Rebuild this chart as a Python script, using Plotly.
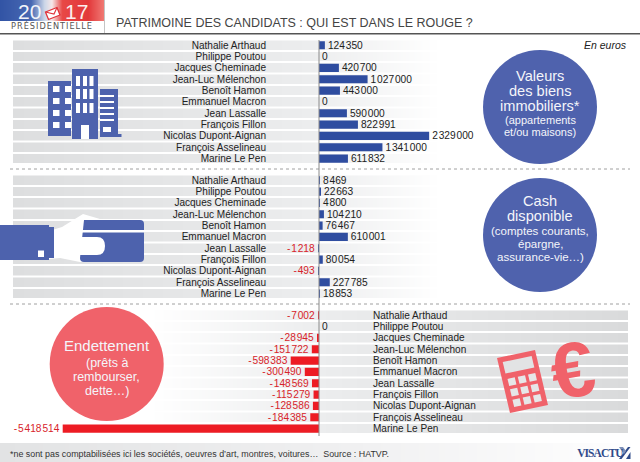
import base64, math, struct, zlib
import plotly.graph_objects as go

W, H = 640, 462
NAMES = ["Nathalie Arthaud", "Philippe Poutou", "Jacques Cheminade", "Jean-Luc Mélenchon",
         "Benoît Hamon", "Emmanuel Macron", "Jean Lassalle", "François Fillon",
         "Nicolas Dupont-Aignan", "François Asselineau", "Marine Le Pen"]
IMMO = [124350, 0, 420700, 1027000, 443000, 0, 590000, 822991, 2329000, 1341000, 611832]
CASH = [8469, 22663, 4800, 104210, 76467, 610001, -1218, 80054, -493, 227785, 18853]
DEBT = [-7002, 0, -28945, -151722, -598383, -300490, -148569, -115279, -128586, -184385, -5418514]

TITLE = "PATRIMOINE DES CANDIDATS : QUI EST DANS LE ROUGE ?"
NOTE = "*ne sont pas comptabilisées ici les sociétés, oeuvres d’art, montres, voitures…  Source : HATVP."

BLUE_BAR, RED_BAR = "#2f4da0", "#ed1c24"
BLUE_C, RED_C = "#4f62ad", "#f0626a"
ICON_BLUE = "#4d62ad"
FONT = "Liberation Sans"
ZERO_PX, PX_PER_EURO = 319.0, 47.3e-6


def px(x):
    return x / W


def py(y):
    return 1 - y / H


def png(width, height, fn):
    raw = b""
    for j in range(height):
        raw += b"\0" + b"".join(bytes(fn(i / (width - 1), j)) for i in range(width))
    def chunk(t, d):
        return struct.pack(">I", len(d)) + t + d + struct.pack(">I", zlib.crc32(t + d))
    data = b"\x89PNG\r\n\x1a\n" + chunk(b"IHDR", struct.pack(">IIBBBBB", width, height, 8, 2, 0, 0, 0))
    data += chunk(b"IDAT", zlib.compress(raw)) + chunk(b"IEND", b"")
    return "data:image/png;base64," + base64.b64encode(data).decode()


def ramp(stops, t):
    for (a, ca), (b, cb) in zip(stops, stops[1:]):
        if t <= b:
            k = (t - a) / (b - a) if b > a else 0
            return [round(ca[n] + (cb[n] - ca[n]) * k) for n in range(3)]
    return list(stops[-1][1])


def stripes(stops):
    def fn(t, j):
        if j % 17 >= 14:
            return [255, 255, 255]
        return ramp(stops, t)
    return png(320, 187, fn)


G1, G2, WH = (221, 222, 223), (236, 237, 238), (255, 255, 255)
left_stops = [(0, G1), (0.7, G2), (1, WH)]
right_stops = [(0, WH), (0.35, G2), (1, (217, 218, 219))]

PANELS = [
    (IMMO, 39.6, 266, "left", BLUE_BAR),
    (CASH, 174.6, 266, "left", BLUE_BAR),
    (DEBT, 309.6, 372, "right", RED_BAR),
]
ROW_H = 11.33

fig = go.Figure()
layout_axes = {}
images = []
for i, (vals, top, lab_x, side, col) in enumerate(PANELS):
    name = "y" if i == 0 else f"y{i + 1}"
    key = "yaxis" if i == 0 else f"yaxis{i + 1}"
    bottom = top + 11 * ROW_H
    texts = [f"{v:,}".replace(",", "\u200a").replace("-", "-\u200a") for v in vals]
    tcol = ["#d8232a" if v < 0 else "#222222" for v in vals]
    fig.add_trace(go.Bar(
        x=vals, y=NAMES, orientation="h", yaxis=name, width=0.72,
        marker=dict(color=col, line=dict(width=0)),
        text=texts, textposition="outside", cliponaxis=False, constraintext="none",
        textfont=dict(family=FONT, size=10.2, color=tcol), showlegend=False,
    ))
    layout_axes[key] = dict(
        domain=[py(bottom), py(top)], anchor="free", position=px(lab_x), side=side,
        type="category", categoryorder="array", categoryarray=NAMES,
        tickmode="array", tickvals=NAMES, ticktext=NAMES,
        autorange=False, range=[10.5, -0.5], showgrid=False, zeroline=False,
        showline=False, ticks="", ticklen=0, tickfont=dict(family=FONT, size=10.05, color="#222222"),
    )
    if i < 2:
        x0, x1, st = 13, 440, left_stops
    else:
        x0, x1, st = 150, 628, right_stops
    images.append(dict(source=stripes(st), xref="paper", yref="paper", x=px(x0), y=py(top + 0.9),
                       sizex=px(x1 - x0), sizey=(11 * ROW_H) / H, sizing="stretch",
                       xanchor="left", yanchor="top", layer="below"))

# footer band and logo ribbon
images.append(dict(source=png(320, 1, lambda t, j: ramp([(0, (226, 227, 228)), (0.55, (240, 240, 241)), (1, WH)], t)),
                   xref="paper", yref="paper", x=0, y=py(443), sizex=1, sizey=19 / H,
                   sizing="stretch", xanchor="left", yanchor="top", layer="below"))
images.append(dict(source=png(208, 1, lambda t, j: ramp([(0, (50, 84, 165)), (0.3, (72, 104, 178)), (0.43, (205, 215, 232)),
                                                         (0.5, (246, 232, 232)), (0.6, (232, 72, 70)), (0.85, (226, 56, 58)),
                                                         (1, (240, 120, 115))], t)),
                   xref="paper", yref="paper", x=0, y=1, sizex=px(104), sizey=21 / H,
                   sizing="stretch", xanchor="left", yanchor="top", layer="below"))


def rect(x0, y0, x1, y1, col):
    return dict(type="rect", xref="paper", yref="paper", x0=px(x0), x1=px(x1), y0=py(y0), y1=py(y1),
                fillcolor=col, line=dict(width=0))


def poly(pts, col, line=None):
    path = "M " + " L ".join(f"{px(a):.5f},{py(b):.5f}" for a, b in pts) + " Z"
    return dict(type="path", xref="paper", yref="paper", path=path, fillcolor=col,
                line=line or dict(width=0))


def circle(cx, cy, r, col):
    return dict(type="circle", xref="paper", yref="paper", x0=px(cx - r), x1=px(cx + r),
                y0=py(cy - r), y1=py(cy + r), fillcolor=col, line=dict(width=0))


def seg(x0, y0, x1, y1, col, w, dash="solid"):
    return dict(type="line", xref="paper", yref="paper", x0=px(x0), x1=px(x1), y0=py(y0), y1=py(y1),
                line=dict(color=col, width=w, dash=dash))


shapes = [
    seg(0, 33.7, 640, 33.7, "#555555", 1.6),
    seg(104.5, 0, 104.5, 33, "#c4c4c4", 1),
    seg(10, 169, 630, 169, "#a0a0a0", 1, "dot"),
    seg(10, 304, 630, 304, "#a0a0a0", 1, "dot"),
    dict(type="line", xref="x", yref="paper", x0=0, x1=0, y0=py(436), y1=py(40),
         line=dict(color="#8a8a8a", width=1)),
    circle(540, 107, 57, BLUE_C), circle(540, 235, 57, BLUE_C), circle(106.7, 364, 57, RED_C),
]

# building icon
shapes += [rect(48, 81, 71, 136, ICON_BLUE), rect(72, 69, 98, 139, ICON_BLUE),
           rect(100, 89, 118, 136, ICON_BLUE), rect(100, 134, 121.5, 137, ICON_BLUE)]
for yy in (86, 98, 110, 122):
    shapes += [rect(53, yy, 59.5, yy + 6, "white"), rect(65, yy, 71, yy + 6, "white")]
for yy in (76, 89, 103):
    for xx in (76, 83, 89.5):
        shapes.append(rect(xx, yy, xx + 4, yy + 10, "white"))
shapes.append(rect(81, 125, 89, 139, "white"))
for yy in (95, 101, 107, 113, 119):
    shapes.append(rect(100, yy, 114, yy + 2, "white"))
shapes.append(rect(103, 127, 111, 132, "white"))

# hand and card icon
shapes += [
    poly([(49, 231), (62, 227), (83, 214), (100, 219), (112, 222), (112, 262), (80, 262), (60, 258), (49, 259)], "white"),
    rect(0, 225, 49, 260, ICON_BLUE), rect(49, 227, 54, 258, ICON_BLUE),
    rect(38, 250.5, 44, 257, "white"),
    dict(type="path", xref="paper", yref="paper", fillcolor=ICON_BLUE, line=dict(width=0),
         path="M {},{} L {},{} Q {},{} {},{} L {},{} Q {},{} {},{} L {},{} Q {},{} {},{} Z".format(
             px(84), py(220), px(140), py(220), px(144), py(220), px(144), py(224), px(144), py(258),
             px(144), py(262), px(140), py(262), px(84), py(262), px(80), py(262), px(80), py(258))),
    rect(80, 230, 144, 232.5, "white"),
    dict(type="path", xref="paper", yref="paper", fillcolor="white", line=dict(width=0),
         path="M {},{} L {},{} Q {},{} {},{} Q {},{} {},{} L {},{} Z".format(
             px(79), py(237), px(97), py(237), px(105), py(237), px(105), py(246),
             px(105), py(255), px(97), py(255), px(79), py(255))),
]


# calculator icon (skewed frame)
def calc(u, v):
    o, a, b = (497, 358), (38, -8), (13, 55)
    return (o[0] + a[0] * u + b[0] * v, o[1] + a[1] * u + b[1] * v)


def cq(u0, v0, u1, v1, col):
    return poly([calc(u0, v0), calc(u1, v0), calc(u1, v1), calc(u0, v1)], col)


shapes += [cq(0, 0, 1, 1, RED_C), cq(0.12, 0.09, 0.88, 0.3, "#e2e3e4")]
for r_ in range(3):
    for c_ in range(3):
        shapes.append(cq(0.14 + c_ * 0.27, 0.4 + r_ * 0.19, 0.33 + c_ * 0.27, 0.53 + r_ * 0.19, "#e6e7e8"))

# VISACTU mark and envelope
shapes += [
    poly([(619, 459), (628, 447), (630.5, 447), (621.5, 459)], "#2f4a8a"),
    poly([(619, 447), (623, 447), (626, 451), (624, 454)], "#7d8fb8"),
    poly([(626, 459), (630.5, 452), (630.5, 459)], "#2f4a8a"),
    poly([(45.5, 12), (57, 7.5), (60, 15), (48.5, 19.5)], "white", dict(color="#e0323a", width=1.3)),
    dict(type="path", xref="paper", yref="paper",
         path=f"M {px(45.5)},{py(12)} L {px(54)},{py(14)} L {px(57)},{py(7.5)}",
         line=dict(color="#e0323a", width=1.1)),
]


def note(x, y, text, size, color="#222222", anchor="center", family=FONT, angle=0, italic=False, weight="normal"):
    return dict(xref="paper", yref="paper", x=px(x), y=py(y), text=f"<i>{text}</i>" if italic else text,
                showarrow=False, xanchor=anchor, yanchor="middle", textangle=angle, borderpad=0,
                font=dict(family=family, size=size, color=color, weight=weight))


CIRCLE_LINES = [
    (540, 76, "Valeurs", 14.6), (540, 91, "des biens", 14.6), (540, 106, "immobiliers*", 14.6),
    (540, 120, "(appartements", 11), (540, 132, "et/ou maisons)", 11),
    (540, 201, "Cash", 14.6), (540, 216, "disponible", 14.6), (540, 231, "(comptes courants,", 11.5),
    (540, 244, "épargne,", 11.5), (540, 256.5, "assurance-vie…)", 11.5),
    (106.7, 345, "Endettement", 15), (106.7, 363, "(prêts à", 12.5), (106.7, 377, "rembourser,", 12.5),
    (106.7, 391, "dette…)", 12.5),
]
annotations = [note(x, y, t, s, "#f4f5fa") for x, y, t, s in CIRCLE_LINES]
annotations += [
    note(115, 23, TITLE, 12.5, "#444444", "left"),
    note(628, 45, "En euros", 10.5, "#222222", "right", italic=True),
    note(9, 454, NOTE, 8.9, "#333333", "left"),
    note(29, 11, "20", 21, "#f2f4fa"),
    note(76, 11, "17", 21, "#fbeeee"),
    note(52, 26, "PRÉSIDENTIELLE", 8.2, "#555555", family="DejaVu Sans"),
    note(599.5, 453, "VISACTU", 11.5, "#2f4a8a", family="Liberation Sans Narrow", weight="bold"),
    note(572, 370, "€", 78, RED_C, angle=-10, weight="bold"),
]

fig.update_layout(
    width=W, height=H, margin=dict(l=0, r=0, t=0, b=0), paper_bgcolor="white", plot_bgcolor="rgba(0,0,0,0)",
    autosize=False, showlegend=False, barmode="overlay",
    xaxis=dict(domain=[0, 1], range=[-ZERO_PX / PX_PER_EURO, (W - ZERO_PX) / PX_PER_EURO],
               visible=False, fixedrange=True),
    images=images, shapes=shapes, annotations=annotations, **layout_axes,
)
POST = """
document.body.style.margin='0';document.body.style.overflow='hidden';
function spacing(){document.querySelectorAll('text.annotation-text').forEach(function(t){
  if(t.textContent==='PRÉSIDENTIELLE'){t.style.letterSpacing='1px';}
  if(t.textContent==='VISACTU'){t.style.letterSpacing='-0.9px';}
});}
spacing();setTimeout(spacing,30);
"""
fig.write_html("out.html", config=dict(displayModeBar=False), post_script=POST)
